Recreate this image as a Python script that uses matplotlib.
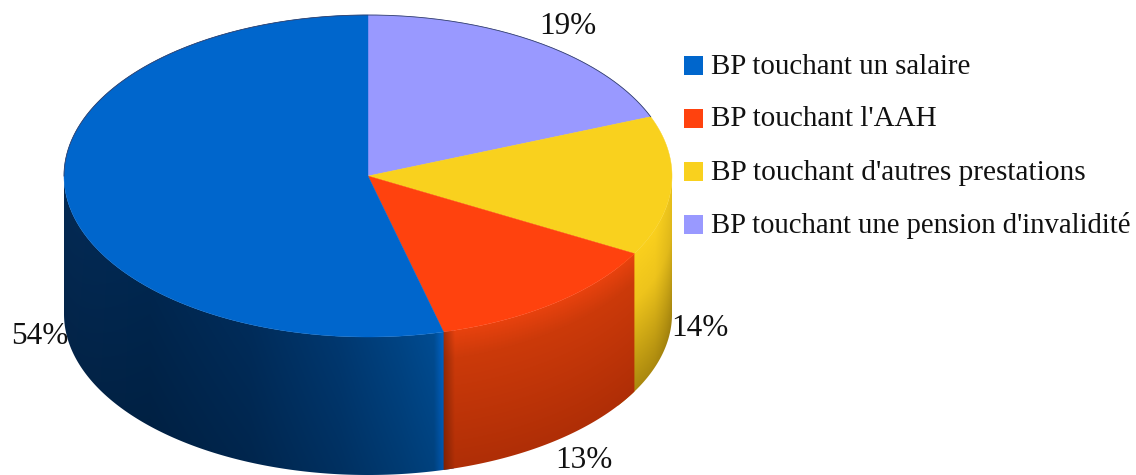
import matplotlib
matplotlib.use("Agg")
import matplotlib.pyplot as plt
import numpy as np
from matplotlib.patches import Polygon, Rectangle

plt.rcParams['font.family'] = ['Liberation Serif', 'DejaVu Serif']

# data, clockwise from 12 o'clock
labels = ["BP touchant une pension d'invalidité", "BP touchant d'autres prestations",
          "BP touchant l'AAH", "BP touchant un salaire"]
shares = [19, 14, 13, 54]
colors = ['#9999ff', '#f9d11e', '#ff420e', '#0066cc']
legend_order = [3, 2, 1, 0]  # legend goes salaire, AAH, autres, invalidite
label_pos = [(568, 27), (700, 328), (584, 460), (40, 337)]

# pie geometry in pixels
cx, cy = 368, 176
rx, ry = 304, 161
depth = 138

fig = plt.figure(figsize=(11.36, 4.75), dpi=100)
ax = fig.add_axes([0, 0, 1, 1])


def arc(t0, t1, dy=0):
    # points on the ellipse, t in degrees clockwise from the top
    t = np.radians(np.linspace(t0, t1, 200))
    return np.column_stack([cx + rx * np.sin(t), cy + dy - ry * np.cos(t)])


def side_image(rgb, poly):
    # shaded wall: rgb is an array (h, w, 3) over the whole canvas
    im = ax.imshow(rgb, extent=(0, 1136, 475, 0), aspect='auto', zorder=1,
                   interpolation='bilinear')
    patch = Polygon(poly, closed=True, transform=ax.transData)
    im.set_clip_path(patch)


X, Y = np.meshgrid(np.arange(1136) + 0.5, np.arange(475) + 0.5)
# how far down the wall each pixel is, 0 at the top rim and 1 at the bottom
rim = cy + ry * np.sqrt(np.clip(1 - ((X - cx) / rx) ** 2, 0, 1))
V = np.clip((Y - rim) / depth, 0, 1)

edges = np.cumsum([0] + shares) * 3.6

# blue wall, runs a little under the red one so no seam shows
xs = [64, 150, 250, 340, 400, 434, 443]
blue = np.dstack([
    np.interp(X, xs, [4, 0, 0, 0, 0, 1, 0]),
    np.interp(X, xs, [42, 38, 44, 56, 68, 76, 98]),
    np.interp(X, xs, [84, 78, 90, 112, 132, 146, 196]),
])
blue *= (1 - 0.14 * V)[..., None]
side_image(blue / 255, np.vstack([arc(edges[3] - 2, 270), arc(270, edges[3] - 2, depth)]))

# yellow wall, only the part right of the red wedge shows
yellow = np.dstack([
    np.interp(V, [0, 0.35, 1], [250, 238, 170]),
    np.interp(V, [0, 0.35, 1], [208, 196, 136]),
    np.interp(V, [0, 0.35, 1], [30, 28, 14]),
])
yellow *= np.interp(X, [655, 672], [1, 0.93])[..., None]
side_image(yellow / 255, np.vstack([arc(90, edges[2] + 6), arc(edges[2] + 6, 90, depth)]))

# red wall
red = np.dstack([
    np.interp(V, [0, 0.2, 1], [232, 204, 175]),
    np.interp(V, [0, 0.2, 1], [66, 58, 46]),
    np.interp(V, [0, 0.2, 1], [14, 10, 6]),
])
red *= np.interp(X, [443, 447, 455, 635], [0.7, 0.8, 1, 1])[..., None]
side_image(red / 255, np.vstack([arc(edges[2], edges[3]), arc(edges[3], edges[2], depth)]))

# top faces
for i in range(len(shares)):
    pts = np.vstack([[cx, cy], arc(edges[i], edges[i + 1])])
    ax.add_patch(Polygon(pts, closed=True, fc=colors[i], ec=colors[i], lw=0.3, zorder=2))

# thin rim around the back of the pie
back = arc(-90, 68.4)
ax.plot(back[:, 0], back[:, 1], color='#33406a', lw=0.6, zorder=3)

# percent labels
for share, (px, py) in zip(shares, label_pos):
    ax.text(px, py, str(share) + '%', fontsize=22.5, ha='center', va='center', color='#111111', zorder=4)

# legend, sizes nudged per row to match the text widths
sizes = [20.8, 21, 21.2, 20.6]
for row, i in enumerate(legend_order):
    y = 65 + row * 53
    ax.add_patch(Rectangle((684, y - 9.5), 19, 19, fc=colors[i], ec='none', zorder=4))
    ax.text(711, y + 1.5, labels[i], fontsize=sizes[row], ha='left', va='center', color='#111111', zorder=4)

ax.set_xlim(0, 1136)
ax.set_ylim(475, 0)
ax.axis('off')
fig.savefig('out.png', dpi=100)
